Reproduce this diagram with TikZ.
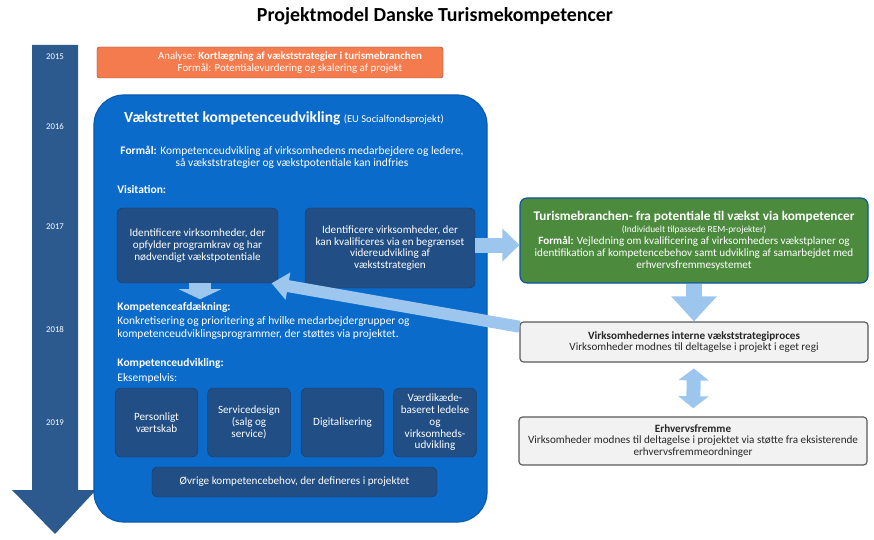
\documentclass[tikz,border=0pt]{standalone}
\usepackage{fontspec}
\setmainfont{Carlito}
\usetikzlibrary{arrows.meta}
\definecolor{timeblue}{HTML}{2C5A8F}
\definecolor{projblue}{HTML}{0B6BCB}
\definecolor{darkbluebox}{HTML}{214E85}
\definecolor{orangebox}{HTML}{F47B4D}
\definecolor{greenbox}{HTML}{4C8B3E}
\definecolor{lightarrow}{HTML}{9DC6EE}
\newcommand{\smalltxt}{\fontsize{9.5}{10}\selectfont}
\newcommand{\bodytxt}{\fontsize{9.8}{10}\selectfont}

\begin{document}
\begin{tikzpicture}[x=0.03cm, y=-0.03cm]
            \tikzstyle{year}=[text=white, font=\fontsize{7.5}{8}\selectfont]
            \tikzstyle{bluetxt}=[text=white, font=\bodytxt, inner sep=1pt]
            \tikzstyle{darkbox}=[fill=darkbluebox, draw=darkbluebox!80!black, rounded corners=5pt, text=white, font=\smalltxt, align=center, inner sep=2pt]
            \tikzstyle{greybox}=[fill=black!5, draw=black!65, line width=1pt, rounded corners=3pt, text=black!85, font=\smalltxt, align=center, minimum width=10.44cm]
            \tikzstyle{blockarrow}=[draw=lightarrow]
            \useasboundingbox (0,0) rectangle (874,540);

            \node (title) at (435,16) {\fontsize{17}{20}\selectfont\bfseries Projektmodel Danske Turismekompetencer};

            \fill[timeblue] (32,45) -- (78,45) -- (78,490) -- (96,490) -- (55,534) -- (12,490) -- (32,490) -- cycle;
            \node[year] (Y_1) at (55,57)  {2015};
            \node[year] (Y_2) at (55,127) {2016};
            \node[year] (Y_3) at (55,227) {2017};
            \node[year] (Y_4) at (55,330) {2018};
            \node[year] (Y_5) at (55,423) {2019};

            \node[fill=orangebox, draw=orangebox!60!black, rounded corners=2pt, minimum width=10.38cm, minimum height=0.93cm, text=white, font=\fontsize{9.3}{10}\selectfont, align=center] (analyse) at (270,62.5) {\hspace*{1.2cm}Analyse: \textbf{Kortlægning af vækststrategier i turismebranchen}\\\hspace*{1.2cm}Formål: Potentialevurdering og skalering af projekt};

            \node[fill=projblue, draw=projblue!85!black, line width=1pt, rounded corners=0.9cm, minimum width=11.79cm, minimum height=12.81cm] (vaekst) at (290.5,308.5) {};
            \node[anchor=west, text=white, inner sep=0pt] (vtitle) at (124,118) {\fontsize{13.2}{15}\selectfont\bfseries Vækstrettet kompetenceudvikling \fontsize{9}{10}\selectfont\mdseries (EU Socialfondsprojekt)};
            \node[bluetxt, align=center] (formaal) at (292,157) {\textbf{Formål:} Kompetenceudvikling af virksomhedens medarbejdere og ledere,\\så vækststrategier og vækstpotentiale kan indfries};
            \node[bluetxt, anchor=west] (visit) at (116,190) {\textbf{Visitation:}};

            \node[darkbox, minimum width=4.83cm, minimum height=2.25cm] (V_1) at (197.5,245.5) {Identificere virksomheder, der\\opfylder programkrav og har\\nødvendigt vækstpotentiale};
            \node[darkbox, minimum width=5.1cm, minimum height=2.4cm] (V_2) at (390,248) {Identificere virksomheder, der\\kan kvalificeres via en begrænset\\videreudvikling af\\vækststrategien};

            \node[bluetxt, anchor=west] (afd) at (116,307) {\textbf{Kompetenceafdækning:}};
            \node[bluetxt, anchor=north west, align=left] (afdtxt) at (116,315) {Konkretisering og prioritering af hvilke medarbejdergrupper og\\[1.2pt]kompetenceudviklingsprogrammer, der støttes via projektet.};
            \node[bluetxt, anchor=west] (udv) at (116,363) {\textbf{Kompetenceudvikling:}};
            \node[bluetxt, anchor=west] (eks) at (116,378) {Eksempelvis:};

            \node[darkbox, minimum width=2.48cm, minimum height=2.07cm] (K_1) at (156.5,422.5) {Personligt\\værtskab};
            \node[darkbox, minimum width=2.48cm, minimum height=2.07cm] (K_2) at (249,422.5) {Servicedesign\\(salg og\\service)};
            \node[darkbox, minimum width=2.48cm, minimum height=2.07cm] (K_3) at (342.5,422.5) {Digitalisering};
            \node[darkbox, minimum width=2.48cm, minimum height=2.07cm] (K_4) at (435,422.5) {Værdikæde-\\baseret ledelse\\og\\virksomheds-\\udvikling};
            \node[darkbox, minimum width=8.55cm, minimum height=0.9cm] (K_5) at (294.5,482) {Øvrige kompetencebehov, der defineres i projektet};

            \node[fill=greenbox, draw=projblue!80!black, line width=1pt, rounded corners=6pt, minimum width=10.44cm, minimum height=2.55cm, text=white, font=\fontsize{9.5}{10.3}\selectfont, align=center] (REM) at (694,240.5) {{\fontsize{11.3}{12}\selectfont\bfseries Turismebranchen- fra potentiale til vækst via kompetencer}\\{\fontsize{8}{9}\selectfont (Individuelt tilpassede REM-projekter)}\\\textbf{Formål:} Vejledning om kvalificering af virksomheders vækstplaner og\\identifikation af kompetencebehov samt udvikling af samarbejdet med\\erhvervsfremmesystemet};

            \node[greybox, minimum height=1.2cm] (G_1) at (694,342) {\textbf{Virksomhedernes interne vækststrategiproces}\\Virksomheder modnes til deltagelse i projekt i eget regi};
            \node[greybox, minimum height=1.44cm] (G_2) at (693,441) {\textbf{Erhvervsfremme}\\Virksomheder modnes til deltagelse i projektet via støtte fra eksisterende\\erhvervsfremmeordninger};

            \draw[blockarrow, line width=0.66cm, -{Triangle[length=0.3cm, width=1.26cm]}] (V_1.south -| 200,0) -- ++(0,16);
            \draw[blockarrow, line width=0.45cm, -{Triangle[length=0.51cm, width=0.96cm]}] (V_2.east |- 0,245) -- (REM.west |- 0,245);
            \draw[blockarrow, line width=0.36cm, -{Triangle[length=0.5cm, width=0.8cm]}] (G_1.175) -- (V_1.-27);
            \draw[blockarrow, line width=0.5cm, -{Triangle[length=0.75cm, width=1.32cm]}] (REM.south) -- (G_1.north);
            \draw[blockarrow, line width=0.42cm, {Triangle[length=0.36cm, width=0.9cm]}-{Triangle[length=0.36cm, width=0.9cm]}, shorten <=5, shorten >=7] (G_1.south) -- (G_2.north);
        \end{tikzpicture}
\end{document}
